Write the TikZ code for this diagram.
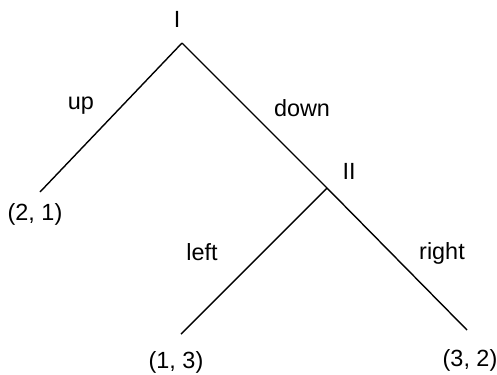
\documentclass[tikz,border=0pt]{standalone}
\usepackage{fontspec}
\setmainfont{Liberation Sans}
\begin{document}
\begin{tikzpicture}[x=1bp,y=-1bp,
  branch/.style={line width=1.4bp, black},
  lbl/.style={font=\fontsize{23.5}{26}\selectfont, inner sep=0pt}]
\useasboundingbox (0,0) rectangle (497,374);
\coordinate (r) at (182,43);
\coordinate (a) at (40,192);
\coordinate (n2) at (327,188);
\coordinate (b) at (181,334);
\coordinate (c) at (467,330);
\draw[branch] (r) -- (a);
\draw[branch] (r) -- (n2);
\draw[branch] (n2) -- (b);
\draw[branch] (n2) -- (c);
\node[lbl] (tI) at (177,19) {I};
\node[lbl] (tII) at (349,171) {II};
\node[lbl] (tup) at (81,106) {up};
\node[lbl] (tdown) at (302,108) {down};
\node[lbl] (tleft) at (202,252) {left};
\node[lbl] (tright) at (442,253) {right};
\node[lbl] (p21) at (35,214) {(2, 1)};
\node[lbl] (p13) at (176,362) {(1, 3)};
\node[lbl] (p32) at (470,360) {(3, 2)};
\end{tikzpicture}
\end{document}
